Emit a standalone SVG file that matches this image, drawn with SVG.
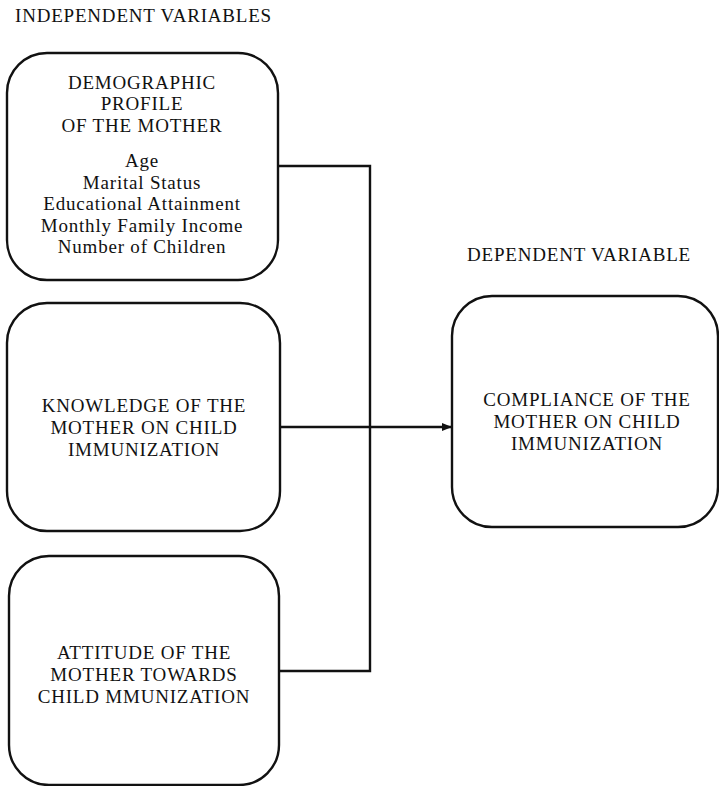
<svg xmlns="http://www.w3.org/2000/svg" width="719" height="786" viewBox="0 0 719 786">
<style>
text{font-family:"Liberation Serif","Times New Roman",serif;font-size:19px;fill:#111;letter-spacing:0.8px}
.c{text-anchor:middle}
.box{fill:#fff;stroke:#111;stroke-width:2.4}
.ln{fill:none;stroke:#111;stroke-width:2.4}
</style>
<defs>
<marker id="ah" markerWidth="10" markerHeight="8" refX="9" refY="4" orient="auto" markerUnits="userSpaceOnUse">
<path d="M0,0 L10,4 L0,8 Z" fill="#111"/>
</marker>
</defs>
<text x="15" y="22">INDEPENDENT VARIABLES</text>
<text x="467" y="261">DEPENDENT VARIABLE</text>
<g id="connectors">
<polyline class="ln" points="278,166 370,166 370,671 279,671"/>
<line class="ln" x1="280" y1="427" x2="451" y2="427" marker-end="url(#ah)"/>
</g>
<g id="demographic">
<rect class="box" x="7" y="53" width="271" height="227" rx="40" ry="40"/>
<text class="c" x="142" y="89">DEMOGRAPHIC</text>
<text class="c" x="142" y="110">PROFILE</text>
<text class="c" x="142" y="132">OF THE MOTHER</text>
<text class="c" x="142" y="167">Age</text>
<text class="c" x="142" y="189">Marital Status</text>
<text class="c" x="142" y="210">Educational Attainment</text>
<text class="c" x="142" y="232">Monthly Family Income</text>
<text class="c" x="142" y="253">Number of Children</text>
</g>
<g id="knowledge">
<rect class="box" x="7" y="303" width="273" height="228" rx="40" ry="40"/>
<text class="c" x="144" y="412">KNOWLEDGE OF THE</text>
<text class="c" x="144" y="434">MOTHER ON CHILD</text>
<text class="c" x="144" y="456">IMMUNIZATION</text>
</g>
<g id="attitude">
<rect class="box" x="9" y="556" width="270" height="229" rx="40" ry="40"/>
<text class="c" x="144" y="659">ATTITUDE OF THE</text>
<text class="c" x="144" y="681">MOTHER TOWARDS</text>
<text class="c" x="144" y="703">CHILD MMUNIZATION</text>
</g>
<g id="compliance">
<rect class="box" x="452" y="296" width="266" height="231" rx="40" ry="40"/>
<text class="c" x="587" y="406">COMPLIANCE OF THE</text>
<text class="c" x="587" y="428">MOTHER ON CHILD</text>
<text class="c" x="587" y="450">IMMUNIZATION</text>
</g>
</svg>
